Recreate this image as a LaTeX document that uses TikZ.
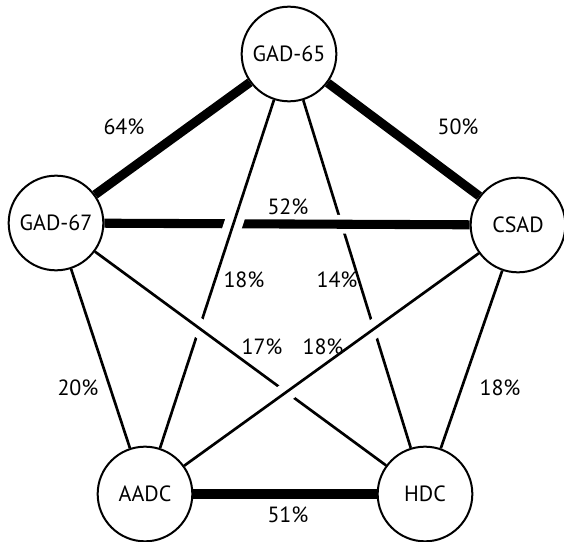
\documentclass[tikz,border=0pt]{standalone}
\usepackage{fontspec}
\setmainfont{PT Sans}

\tikzset{
  enzyme/.style={draw, circle, line width=1.5pt, minimum size=71pt, inner sep=0pt, fill=white, font=\fontsize{16.5}{19}\selectfont},
  weak/.style={line width=2pt},
  strong/.style={line width=6.8pt},
  over/.style={preaction={draw, white, line width=14pt, shorten <=20pt, shorten >=20pt}},
  pct/.style={font=\fontsize{16.5}{19}\selectfont, inner sep=0pt}
}

\begin{document}
\begin{tikzpicture}[x=0.75pt, y=-0.75pt]
\useasboundingbox (0,0) rectangle (564,542);

\node[enzyme] (gad65) at (289, 54) {GAD-65};
\node[enzyme] (gad67) at (56, 223) {GAD-67};
\node[enzyme] (csad) at (518, 225) {CSAD};
\node[enzyme] (aadc) at (145, 494) {AADC};
\node[enzyme] (hdc) at (425, 494) {HDC};

% lines that pass under others first
\draw[weak] (gad65) -- (hdc);
\draw[strong, over] (gad67) -- (csad);
\draw[weak, over] (gad65) -- (aadc);
\draw[weak, over] (gad67) -- (hdc);
\draw[weak, over] (csad) -- (aadc);

\draw[strong] (gad65) -- (gad67);
\draw[strong] (gad65) -- (csad);
\draw[weak] (gad67) -- (aadc);
\draw[weak] (csad) -- (hdc);
\draw[strong] (aadc) -- (hdc);

% percentages
\node[pct] (p64) at (124, 127) {64\%};
\node[pct] (p50) at (458, 127) {50\%};
\node[pct] (p52) at (288, 207) {52\%};
\node[pct] (p18a) at (244, 280) {18\%};
\node[pct] (p14) at (337, 280) {14\%};
\node[pct] (p17) at (262, 347) {17\%};
\node[pct] (p18b) at (323, 347) {18\%};
\node[pct] (p20) at (78, 388) {20\%};
\node[pct] (p18c) at (500, 388) {18\%};
\node[pct] (p51) at (288, 515) {51\%};

\end{tikzpicture}
\end{document}
